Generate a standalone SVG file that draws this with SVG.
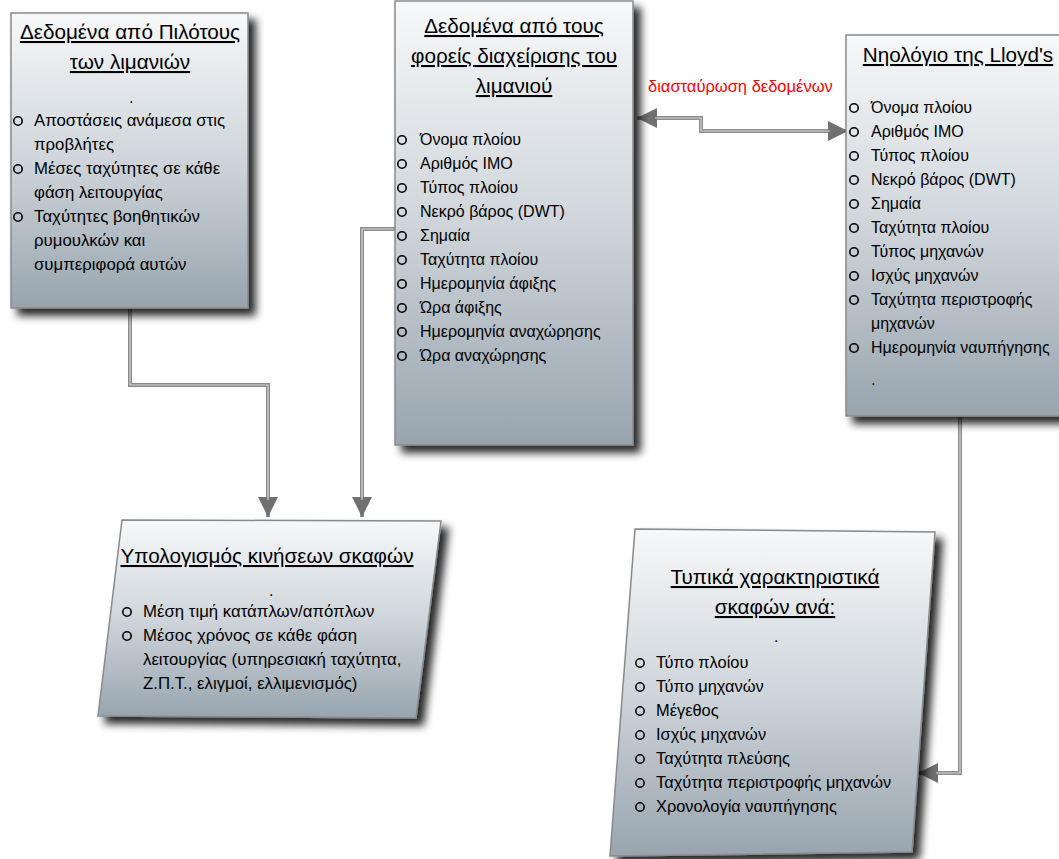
<svg xmlns="http://www.w3.org/2000/svg" width="1059" height="859" viewBox="0 0 1059 859">
<defs>
<linearGradient id="g" x1="0" y1="0" x2="0" y2="1">
<stop offset="0" stop-color="#f7f8f9"/>
<stop offset="0.5" stop-color="#cfd5da"/>
<stop offset="1" stop-color="#97a4ae"/>
</linearGradient>
<filter id="sh" x="-10%" y="-10%" width="130%" height="130%">
<feDropShadow dx="7" dy="7" stdDeviation="4" flood-color="#000" flood-opacity="0.85"/>
</filter>
<marker id="ah" viewBox="0 0 10 10" refX="10" refY="5" markerWidth="5" markerHeight="5" orient="auto-start-reverse" markerUnits="strokeWidth">
<path d="M0,0 L10,5 L0,10 z" fill="#707070"/>
</marker>
</defs>
<style>
.box{fill:url(#g);stroke:#8a8a8a;stroke-width:1.5;filter:url(#sh)}
.t{font-family:"Liberation Sans",Arial,sans-serif;font-size:20.7px;fill:#000;text-decoration:underline}
.i{font-family:"Liberation Sans",Arial,sans-serif;font-size:16px;fill:#000}
.i2{font-family:"Liberation Sans",Arial,sans-serif;font-size:16.8px;fill:#000}
.i3{font-family:"Liberation Sans",Arial,sans-serif;font-size:16.4px;fill:#000}
.b{fill:none;stroke:#000;stroke-width:1.6}
.c{fill:none;stroke:#8c8c8c;stroke-width:4}
.ci{fill:none;stroke:#d6d6d6;stroke-width:1.2}
.lbl{font-family:"Liberation Sans",Arial,sans-serif;font-size:16.5px;fill:#ff0000}
</style>

<g id="connectors">
<path class="c" d="M130,308 V385 H268 V517" marker-end="url(#ah)"/>
<path class="ci" d="M130,308 V385 H268 V500"/>
<path class="c" d="M395,229 H362 V517" marker-end="url(#ah)"/>
<path class="ci" d="M395,229 H362 V500"/>
<path class="c" d="M637,118 H701 V131 H848" marker-start="url(#ah)" marker-end="url(#ah)"/>
<path class="ci" d="M655,118 H701 V131 H830"/>
<path class="c" d="M960,416 V773 H918" marker-end="url(#ah)"/>
<path class="ci" d="M960,416 V773 H936"/>
<text class="lbl" x="648" y="92">διασταύρωση δεδομένων</text>
</g>

<g id="pilots">
<rect class="box" x="11" y="13" width="237" height="295"/>
<text class="t" x="130" y="39" text-anchor="middle">Δεδομένα από Πιλότους</text>
<text class="t" x="130" y="69" text-anchor="middle">των λιμανιών</text>
<text class="i" x="129" y="103">.</text>
<circle class="b" cx="18" cy="121" r="4.2"/>
<text class="i2" x="34" y="126">Αποστάσεις ανάμεσα στις</text>
<text class="i2" x="34" y="150">προβλήτες</text>
<circle class="b" cx="18" cy="169" r="4.2"/>
<text class="i2" x="34" y="174">Μέσες ταχύτητες σε κάθε</text>
<text class="i2" x="34" y="198">φάση λειτουργίας</text>
<circle class="b" cx="18" cy="217" r="4.2"/>
<text class="i2" x="34" y="222">Ταχύτητες βοηθητικών</text>
<text class="i2" x="34" y="246">ρυμουλκών και</text>
<text class="i2" x="34" y="270">συμπεριφορά αυτών</text>
</g>

<g id="port">
<rect class="box" x="395" y="1" width="238" height="444"/>
<text class="t" x="514" y="33" text-anchor="middle">Δεδομένα από τους</text>
<text class="t" x="514" y="63" text-anchor="middle">φορείς διαχείρισης του</text>
<text class="t" x="514" y="93" text-anchor="middle">λιμανιού</text>
<g class="i">
<text x="420" y="145">Όνομα πλοίου</text>
<text x="420" y="169">Αριθμός ΙΜΟ</text>
<text x="420" y="193">Τύπος πλοίου</text>
<text x="420" y="217">Νεκρό βάρος (DWT)</text>
<text x="420" y="241">Σημαία</text>
<text x="420" y="265">Ταχύτητα πλοίου</text>
<text x="420" y="289">Ημερομηνία άφιξης</text>
<text x="420" y="313">Ώρα άφιξης</text>
<text x="420" y="337">Ημερομηνία αναχώρησης</text>
<text x="420" y="361">Ώρα αναχώρησης</text>
</g>
<circle class="b" cx="402" cy="140" r="4.2"/>
<circle class="b" cx="402" cy="164" r="4.2"/>
<circle class="b" cx="402" cy="188" r="4.2"/>
<circle class="b" cx="402" cy="212" r="4.2"/>
<circle class="b" cx="402" cy="236" r="4.2" stroke-width="1"/>
<circle class="b" cx="402" cy="260" r="4.2"/>
<circle class="b" cx="402" cy="284" r="4.2"/>
<circle class="b" cx="402" cy="308" r="4.2"/>
<circle class="b" cx="402" cy="332" r="4.2"/>
<circle class="b" cx="402" cy="356" r="4.2"/>
</g>

<g id="lloyds">
<rect class="box" x="846" y="35" width="220" height="381"/>
<text class="t" x="958" y="62" text-anchor="middle">Νηολόγιο της Lloyd's</text>
<g class="i">
<text x="871" y="113">Όνομα πλοίου</text>
<text x="871" y="137">Αριθμός ΙΜΟ</text>
<text x="871" y="161">Τύπος πλοίου</text>
<text x="871" y="185">Νεκρό βάρος (DWT)</text>
<text x="871" y="209">Σημαία</text>
<text x="871" y="233">Ταχύτητα πλοίου</text>
<text x="871" y="257">Τύπος μηχανών</text>
<text x="871" y="281">Ισχύς μηχανών</text>
<text x="871" y="305">Ταχύτητα περιστροφής</text>
<text x="871" y="329">μηχανών</text>
<text x="871" y="353">Ημερομηνία ναυπήγησης</text>
<text x="871" y="385">.</text>
</g>
<circle class="b" cx="854" cy="108" r="4.2"/>
<circle class="b" cx="854" cy="132" r="4.2"/>
<circle class="b" cx="854" cy="156" r="4.2"/>
<circle class="b" cx="854" cy="180" r="4.2"/>
<circle class="b" cx="854" cy="204" r="4.2" stroke-width="1"/>
<circle class="b" cx="854" cy="228" r="4.2"/>
<circle class="b" cx="854" cy="252" r="4.2"/>
<circle class="b" cx="854" cy="276" r="4.2"/>
<circle class="b" cx="854" cy="300" r="4.2"/>
<circle class="b" cx="854" cy="348" r="4.2"/>
</g>

<g id="calc">
<path class="box" d="M122,520 L441,521 L416,718 L98,716 Z"/>
<text class="t" x="267" y="563" text-anchor="middle">Υπολογισμός κινήσεων σκαφών</text>
<text class="i" x="269" y="596">.</text>
<circle class="b" cx="127" cy="612" r="4.2"/>
<text class="i2" x="143" y="617">Μέση τιμή κατάπλων/απόπλων</text>
<circle class="b" cx="127" cy="636" r="4.2"/>
<text class="i2" x="143" y="641">Μέσος χρόνος σε κάθε φάση</text>
<text class="i2" x="143" y="665">λειτουργίας (υπηρεσιακή ταχύτητα,</text>
<text class="i2" x="143" y="689">Ζ.Π.Τ., ελιγμοί, ελλιμενισμός)</text>
</g>

<g id="typical">
<path class="box" d="M635,529 L935,532 L912,852 L610,856 Z"/>
<text class="t" x="775" y="584" text-anchor="middle"> Τυπικά χαρακτηριστικά</text>
<text class="t" x="775" y="614" text-anchor="middle">σκαφών ανά:</text>
<text class="i" x="774" y="642">.</text>
<g class="i3">
<text x="656" y="668">Τύπο πλοίου</text>
<text x="656" y="692">Τύπο μηχανών</text>
<text x="656" y="716">Μέγεθος</text>
<text x="656" y="740">Ισχύς μηχανών</text>
<text x="656" y="764">Ταχύτητα πλεύσης</text>
<text x="656" y="788">Ταχύτητα περιστροφής μηχανών</text>
<text x="656" y="812">Χρονολογία ναυπήγησης</text>
</g>
<circle class="b" cx="640" cy="663" r="4.2"/>
<circle class="b" cx="640" cy="687" r="4.2"/>
<circle class="b" cx="640" cy="711" r="4.2" stroke-width="1"/>
<circle class="b" cx="640" cy="735" r="4.2"/>
<circle class="b" cx="640" cy="759" r="4.2"/>
<circle class="b" cx="640" cy="783" r="4.2"/>
<circle class="b" cx="640" cy="807" r="4.2"/>
</g>
</svg>
